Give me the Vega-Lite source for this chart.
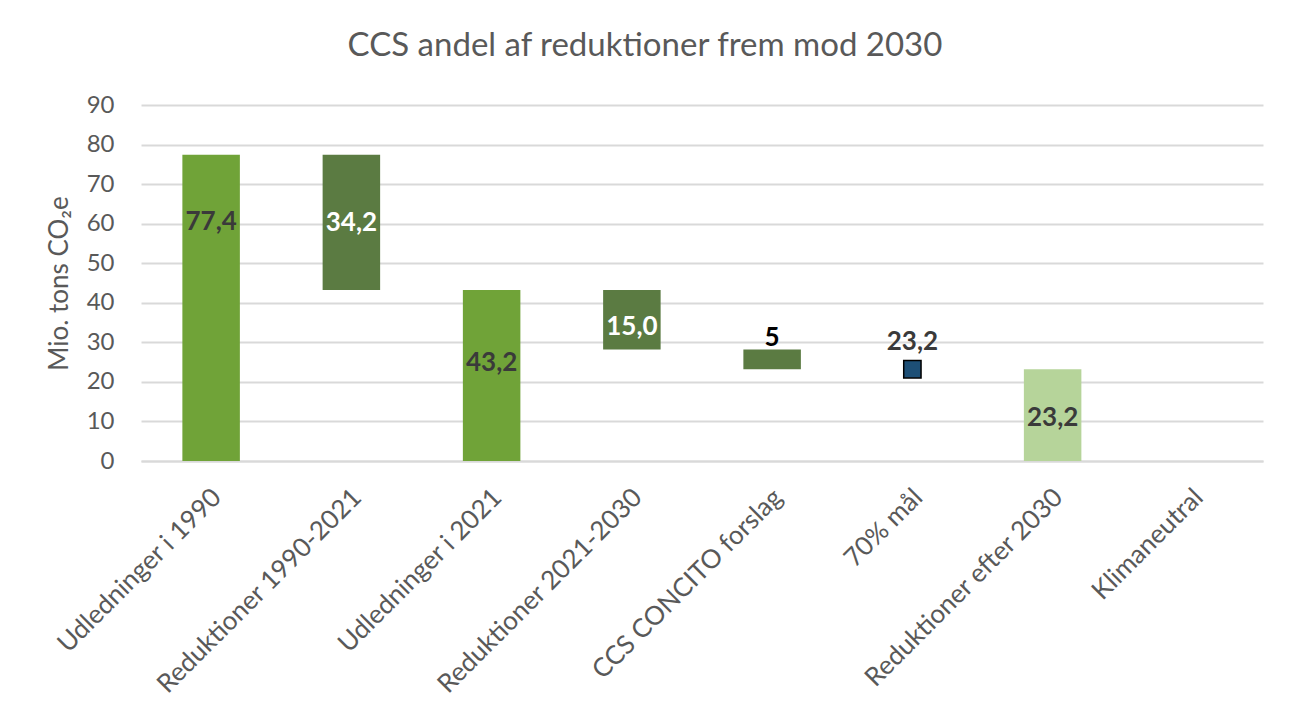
{
  "$schema": "https://vega.github.io/schema/vega-lite/v6.json",
  "autosize": {"type": "none"},
  "padding": {"left": 141, "top": 105, "right": 27, "bottom": 261},
  "width": 1122,
  "height": 356,
  "background": "white",
  "config": {"view": {"stroke": null}},
  "title": {
    "text": "CCS andel af reduktioner frem mod 2030",
    "font": "Lato",
    "fontSize": 33,
    "fontWeight": "normal",
    "color": "#595959",
    "anchor": "middle",
    "dx": -57,
    "offset": 30
  },
  "data": {
    "values": [
      {"cat": "Udledninger i 1990", "start": 0, "end": 77.4, "type": "niveau", "label": "77,4", "labelY": 60.4},
      {"cat": "Reduktioner 1990-2021", "start": 43.2, "end": 77.4, "type": "reduktion", "label": "34,2", "labelY": 60.2},
      {"cat": "Udledninger i 2021", "start": 0, "end": 43.2, "type": "niveau", "label": "43,2", "labelY": 24.8},
      {"cat": "Reduktioner 2021-2030", "start": 28.2, "end": 43.2, "type": "reduktion", "label": "15,0", "labelY": 33.9},
      {"cat": "CCS CONCITO forslag", "start": 23.2, "end": 28.2, "type": "ccs", "label": "5", "labelY": 31.1},
      {"cat": "70% mål", "start": null, "end": 23.2, "type": "maal", "label": "23,2", "labelY": 30.1},
      {"cat": "Reduktioner efter 2030", "start": 0, "end": 23.2, "type": "rest", "label": "23,2", "labelY": 10.9},
      {"cat": "Klimaneutral", "start": null, "end": null, "type": "neutral", "label": "", "labelY": null}
    ]
  },
  "encoding": {
    "x": {
      "field": "cat",
      "type": "nominal",
      "sort": null,
      "scale": {
        "domain": ["Udledninger i 1990", "Reduktioner 1990-2021", "Udledninger i 2021", "Reduktioner 2021-2030", "CCS CONCITO forslag", "70% mål", "Reduktioner efter 2030", "Klimaneutral"],
        "paddingInner": 0.59,
        "paddingOuter": 0.295
      },
      "axis": {
        "title": null,
        "labelAngle": -45,
        "labelAlign": "right",
        "labelBaseline": "middle",
        "labelFont": "Lato",
        "labelFontSize": 26,
        "labelColor": "#595959",
        "labelPadding": 32,
        "labelOffset": 6,
        "ticks": false,
        "domainColor": "#d9d9d9",
        "domainWidth": 2,
        "labelLimit": 400,
        "labelOverlap": false
      }
    }
  },
  "layer": [
    {
      "mark": {"type": "bar", "opacity": 1},
      "transform": [{"filter": "datum.start != null && datum.end != null"}],
      "encoding": {
        "y": {
          "field": "start",
          "type": "quantitative",
          "scale": {"domain": [0, 90], "nice": false},
          "axis": {
            "title": "Mio. tons CO₂e",
            "titleFont": "Lato",
            "titleFontSize": 26,
            "titleFontWeight": "normal",
            "titleColor": "#595959",
            "titlePadding": 14,
            "values": [0, 10, 20, 30, 40, 50, 60, 70, 80, 90],
            "labelOverlap": false,
            "labelFont": "Lato",
            "labelFontSize": 24,
            "labelColor": "#595959",
            "labelPadding": 27,
            "ticks": false,
            "domain": false,
            "gridColor": "#d9d9d9",
            "gridWidth": 2
          }
        },
        "y2": {"field": "end"},
        "color": {
          "field": "type",
          "type": "nominal",
          "scale": {
            "domain": ["niveau", "reduktion", "ccs", "rest"],
            "range": ["#70a338", "#5b7b42", "#5b7b42", "#b6d49a"]
          },
          "legend": null
        }
      }
    },
    {
      "mark": {"type": "point", "shape": "square", "filled": true, "size": 300, "fill": "#1d4f76", "stroke": "#000000", "strokeWidth": 1.5, "opacity": 1},
      "transform": [{"filter": "datum.type === 'maal'"}],
      "encoding": {
        "y": {
          "field": "end",
          "type": "quantitative",
          "scale": {"domain": [0, 90], "nice": false},
          "axis": {
            "title": "Mio. tons CO₂e",
            "titleFont": "Lato",
            "titleFontSize": 26,
            "titleFontWeight": "normal",
            "titleColor": "#595959",
            "titlePadding": 14,
            "values": [0, 10, 20, 30, 40, 50, 60, 70, 80, 90],
            "labelOverlap": false,
            "labelFont": "Lato",
            "labelFontSize": 24,
            "labelColor": "#595959",
            "labelPadding": 27,
            "ticks": false,
            "domain": false,
            "gridColor": "#d9d9d9",
            "gridWidth": 2
          }
        }
      }
    },
    {
      "mark": {"type": "text", "font": "Lato", "fontSize": 26, "fontWeight": "bold", "baseline": "middle", "align": "center"},
      "transform": [{"filter": "datum.labelY != null"}],
      "encoding": {
        "y": {
          "field": "labelY",
          "type": "quantitative",
          "scale": {"domain": [0, 90], "nice": false},
          "axis": {
            "title": "Mio. tons CO₂e",
            "titleFont": "Lato",
            "titleFontSize": 26,
            "titleFontWeight": "normal",
            "titleColor": "#595959",
            "titlePadding": 14,
            "values": [0, 10, 20, 30, 40, 50, 60, 70, 80, 90],
            "labelOverlap": false,
            "labelFont": "Lato",
            "labelFontSize": 24,
            "labelColor": "#595959",
            "labelPadding": 27,
            "ticks": false,
            "domain": false,
            "gridColor": "#d9d9d9",
            "gridWidth": 2
          }
        },
        "text": {"field": "label"},
        "color": {
          "condition": [
            {"test": "datum.type === 'reduktion'", "value": "#ffffff"},
            {"test": "datum.type === 'ccs'", "value": "#000000"}
          ],
          "value": "#3a3a3a"
        }
      }
    }
  ]
}
